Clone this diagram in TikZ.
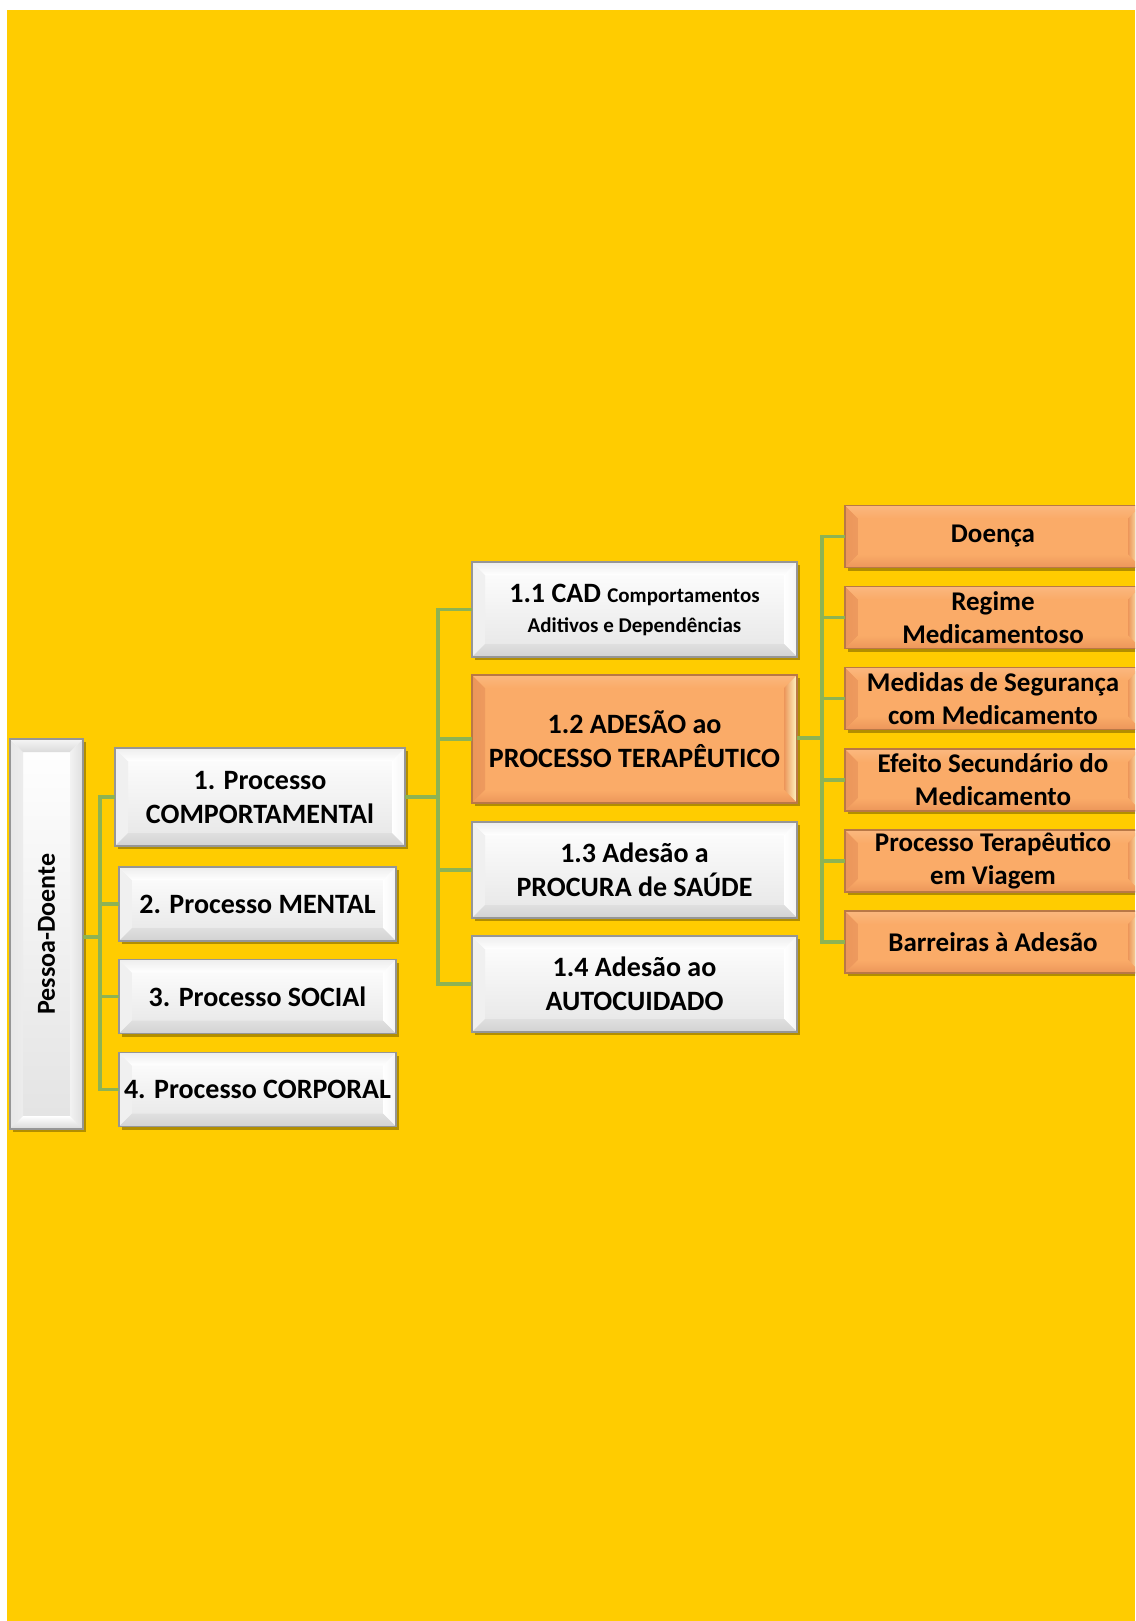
\documentclass[tikz,border=0pt]{standalone}
\usepackage{fontspec}
\setmainfont{Carlito}
\usetikzlibrary{shadows}
\definecolor{bgyellow}{RGB}{255,204,0}
\definecolor{conngreen}{RGB}{141,179,84}
\definecolor{orfill}{RGB}{250,171,104}
\definecolor{ordark}{RGB}{236,150,90}
\definecolor{orborder}{RGB}{185,120,70}
\definecolor{orlight}{RGB}{255,248,196}
\definecolor{grborder}{RGB}{150,150,150}
\newcommand\bvs{13pt}
\newcommand\bevelstrips[8]{%
 \shade[left color=#1,right color=#2] (path picture bounding box.north west) -- ([xshift=\bvs,yshift=-\bvs]path picture bounding box.north west) -- ([xshift=\bvs,yshift=\bvs]path picture bounding box.south west) -- (path picture bounding box.south west) -- cycle;
 \shade[top color=#3,bottom color=#4] (path picture bounding box.north west) -- (path picture bounding box.north east) -- ([xshift=-\bvs,yshift=-\bvs]path picture bounding box.north east) -- ([xshift=\bvs,yshift=-\bvs]path picture bounding box.north west) -- cycle;
 \shade[left color=#5,right color=#6] (path picture bounding box.north east) -- ([xshift=-\bvs,yshift=-\bvs]path picture bounding box.north east) -- ([xshift=-\bvs,yshift=\bvs]path picture bounding box.south east) -- (path picture bounding box.south east) -- cycle;
 \shade[top color=#7,bottom color=#8] (path picture bounding box.south west) -- (path picture bounding box.south east) -- ([xshift=-\bvs,yshift=\bvs]path picture bounding box.south east) -- ([xshift=\bvs,yshift=\bvs]path picture bounding box.south west) -- cycle;
}
\tikzset{
 bevelbase/.style={rectangle, inner sep=0pt, outer sep=0pt, align=center,
   line width=1.2pt,
   font=\fontsize{28}{34}\selectfont\bfseries,
   drop shadow={shadow xshift=3pt, shadow yshift=-3pt, fill=black, opacity=0.3}},
 greybox/.style={bevelbase, draw=grborder, top color=white, bottom color=gray!20,
   path picture={\bevelstrips{gray!12}{white}{gray!14}{white}{white}{gray!8}{gray!25}{gray!35}}},
 pessoabox/.style={bevelbase, draw=grborder, top color=white, bottom color=gray!22,
   path picture={\bevelstrips{gray!18}{white}{gray!8}{gray!28}{gray!10}{gray!25}{white}{gray!30}}},
 orbox/.style={bevelbase, draw=orborder, fill=orfill,
   path picture={\bevelstrips{ordark}{orlight}{orfill!85!white}{orfill}{ordark}{orlight}{orfill}{ordark}}},
 rightbox/.style={orbox, minimum width=296pt, minimum height=62pt, font=\fontsize{27}{33}\selectfont\bfseries},
 conn/.style={draw=conngreen, line width=3.5pt}
}
\begin{document}
\begin{tikzpicture}[x=1pt,y=-1pt]
\useasboundingbox (0,0) rectangle (1135,1621);
\clip (0,0) rectangle (1135,1621);
\fill[white] (0,0) rectangle (1135,1621);
\fill[bgyellow] (7,10) rectangle (1135,1621);

% column 0
\node[pessoabox, minimum width=73pt, minimum height=390pt] (P) at (46.5,934)
  {\rotatebox{90}{\fontsize{26}{32}\selectfont\bfseries Pessoa-Doente}};
% column 1
\node[greybox, minimum width=290pt, minimum height=98pt] (n1) at (260,797) {1. Processo\\COMPORTAMENTAl};
\node[greybox, minimum width=277pt, minimum height=74pt] (n2) at (257.5,904) {2. Processo MENTAL};
\node[greybox, minimum width=277pt, minimum height=74pt] (n3) at (257.5,996.5) {3. Processo SOCIAl};
\node[greybox, minimum width=277pt, minimum height=74pt] (n4) at (257.5,1089.5) {4. Processo CORPORAL};
% column 2
\node[greybox, minimum width=325pt, minimum height=95pt] (n11) at (634.5,609.5)
  {1.1 CAD {\fontsize{21}{28}\selectfont Comportamentos}\\[-4pt]{\fontsize{21}{28}\selectfont Aditivos e Dependências}};
\node[orbox, minimum width=325pt, minimum height=128pt] (n12) at (634.5,739) {1.2 ADESÃO ao\\PROCESSO TERAPÊUTICO};
\node[greybox, minimum width=325pt, minimum height=96pt] (n13) at (634.5,870) {1.3 Adesão a\\PROCURA de SAÚDE};
\node[greybox, minimum width=325pt, minimum height=96pt] (n14) at (634.5,984) {1.4 Adesão ao\\AUTOCUIDADO};
% column 3
\node[rightbox] (r1) at (993,536.5) {Doença};
\node[rightbox] (r2) at (993,617.5) {Regime\\Medicamentoso};
\node[rightbox] (r3) at (993,698.5) {Medidas de Segurança\\com Medicamento};
\node[rightbox] (r4) at (993,780) {Efeito Secundário do\\Medicamento};
\node[rightbox] (r5) at (993,861) {Processo Terapêutico\\em Viagem};
\node[rightbox] (r6) at (993,942) {Barreiras à Adesão};

% connectors
\coordinate (j1) at (100,937);
\coordinate (j2) at (438,797);
\coordinate (j3) at (822,738);
\begin{scope}[on background layer/.try]
\end{scope}
\draw[conn] (P.east |- j1) -- (j1);
\foreach \n in {n1,n2,n3,n4} \draw[conn] (j1) |- (\n.west);
\draw[conn] (n1.east) -- (j2);
\foreach \n in {n11,n12,n13,n14} \draw[conn] (j2) |- (\n.west);
\draw[conn] (n12.east |- j3) -- (j3);
\foreach \n in {r1,r2,r3,r4,r5,r6} \draw[conn] (j3) |- (\n.west);
\end{tikzpicture}
\end{document}
